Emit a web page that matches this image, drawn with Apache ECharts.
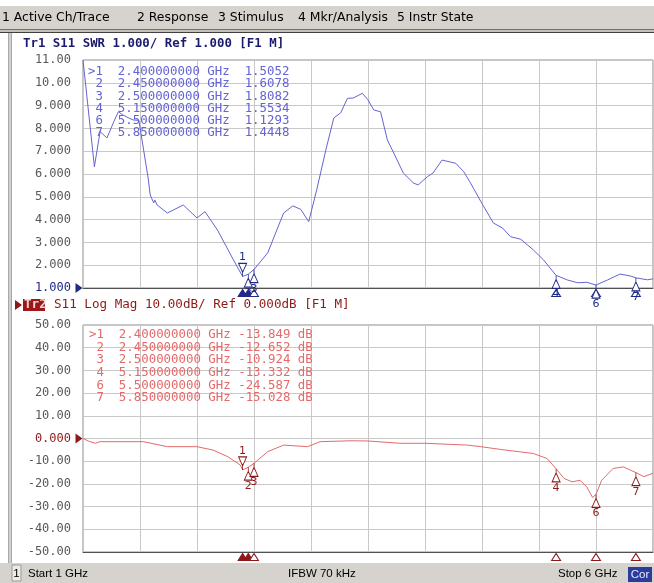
<!DOCTYPE html>
<html><head><meta charset="utf-8">
<script src="https://cdn.jsdelivr.net/npm/echarts@6/dist/echarts.min.js"></script>
<style>html,body{margin:0;padding:0;background:#fff}#c{width:654px;height:583px}</style>
</head><body><div id="c"></div><script>
// ---------- data ----------
const swrFreq = [1.00,1.10,1.15,1.21,1.27,1.31,1.35,1.40,1.44,1.49,1.57,1.59,1.62,1.63,1.65,1.74,1.88,2.00,2.07,2.18,2.32,2.40,2.45,2.50,2.62,2.76,2.84,2.91,2.98,3.05,3.13,3.20,3.26,3.32,3.37,3.45,3.50,3.55,3.61,3.67,3.72,3.81,3.90,3.94,4.02,4.07,4.15,4.27,4.34,4.40,4.49,4.60,4.68,4.75,4.84,4.95,5.04,5.15,5.25,5.34,5.42,5.50,5.60,5.71,5.80,5.85,5.95,6.00];
const swrVals = [11.0,6.32,7.86,7.58,8.29,8.73,8.59,8.46,8.37,8.35,5.87,5.08,4.73,4.86,4.64,4.29,4.64,4.07,4.35,3.54,2.23,1.5052,1.6078,1.8082,2.54,4.29,4.60,4.45,3.91,5.30,7.05,8.46,8.68,9.32,9.33,9.54,9.25,8.81,8.73,7.49,6.98,6.04,5.60,5.52,5.88,6.04,6.61,6.47,6.10,5.60,4.79,3.85,3.63,3.25,3.14,2.67,2.23,1.5534,1.35,1.23,1.25,1.1293,1.35,1.61,1.53,1.4448,1.36,1.40];
const dbFreq = [1.00,1.06,1.11,1.15,1.53,1.74,2.00,2.14,2.27,2.38,2.40,2.45,2.50,2.62,2.76,2.97,3.08,3.35,3.50,3.78,4.00,4.37,4.49,4.66,4.95,5.07,5.15,5.22,5.29,5.36,5.42,5.47,5.50,5.55,5.65,5.74,5.85,5.92,6.00];
const dbVals = [0.0,-1.4,-2.1,-1.4,-1.4,-3.6,-3.6,-5.1,-8.0,-11.7,-13.849,-12.652,-10.924,-5.8,-2.9,-3.6,-1.4,-1.0,-1.1,-2.1,-2.1,-2.9,-3.6,-4.8,-6.6,-8.8,-13.332,-17.6,-19.1,-18.4,-21.4,-26.0,-24.587,-18.4,-13.2,-12.5,-15.028,-16.8,-15.3];
const markerIds = ['1','2','3','4','6','7'];
const markerFreq = [2.4,2.45,2.5,5.15,5.5,5.85];
const markerSwr = [1.5052,1.6078,1.8082,1.5534,1.1293,1.4448];
const markerDb = [-13.849,-12.652,-10.924,-13.332,-24.587,-15.028];
const swrTickLabels = ['11.00','10.00','9.000','8.000','7.000','6.000','5.000','4.000','3.000','2.000','1.000'];
const dbTickLabels = ['50.00','40.00','30.00','20.00','10.00','0.000','-10.00','-20.00','-30.00','-40.00','-50.00'];
const menuItems = ['1 Active Ch/Trace','2 Response','3 Stimulus','4 Mkr/Analysis','5 Instr State'];
const trace1Title = 'Tr1 S11 SWR 1.000/ Ref 1.000 [F1 M]';
const trace2Name = 'Tr2';
const trace2Title = 'S11 Log Mag 10.00dB/ Ref 0.000dB [F1 M]';
const statusStart = 'Start 1 GHz', statusIfbw = 'IFBW 70 kHz', statusStop = 'Stop 6 GHz', statusCor = 'Cor';

// ---------- styling ----------
const NAVY = '#1f2a88', DRED = '#8e1818';
const TRACE1 = '#6464d2', TRACE2 = '#e46a6a';
const MONO = '"DejaVu Sans Mono", monospace';
const PIN_UP = 'path://M4,0 L4,6 M0,13 L4,4 L8,13 Z';
const PIN_DOWN = 'path://M0,0 L8,0 L4,9 Z M4,7 L4,13';

function pairs(f, v){ return f.map((x,i)=>[x, v[i]]); }

function markers(vals, color, yMin, ref){
  const d = [];
  markerIds.forEach((id,i)=>{
    d.push({
      coord:[markerFreq[i], yMin], symbol:'triangle', symbolSize:[9,7], symbolOffset:[0,5],
      itemStyle:{color: i<2 ? color : '#fff', borderColor:color, borderWidth:1},
      label:{show:false}
    });
  });
  markerIds.forEach((id,i)=>{
    const active = i===0;
    d.push({
      coord:[markerFreq[i], vals[i]],
      symbol: active ? PIN_DOWN : PIN_UP,
      symbolSize:[8,13],
      symbolOffset:[0, active ? -6.5 : 6.5],
      itemStyle:{color:'#fff', borderColor:color, borderWidth:1},
      label:{show:true, formatter:id, position: active ? 'top' : 'bottom', distance:0,
             color:color, fontSize:11, fontFamily:'"DejaVu Sans"', padding:0}
    });
  });
  d.push({
    coord:[1, ref], symbol:'triangle', symbolRotate:-90, symbolSize:[10,7], symbolOffset:[-4,0],
    itemStyle:{color:color, borderWidth:0}, label:{show:false}
  });
  return d;
}

function tableLines(vals, isDb){
  return markerIds.map((id,i)=>{
    const head = (i===0 ? '>' : ' ') + id + '  ' + markerFreq[i].toFixed(9) + ' GHz';
    return isDb ? head + ' ' + vals[i].toFixed(3) + ' dB' : head + '  ' + vals[i].toFixed(4);
  });
}

const graphics = [];
// menu bar
graphics.push({type:'rect', shape:{x:0,y:6,width:654,height:23}, style:{fill:'#d6d3ce'}, silent:true});
graphics.push({type:'rect', shape:{x:0,y:29,width:654,height:4}, style:{fill:'#c4c1bb'}, silent:true});
graphics.push({type:'line', shape:{x1:0,y1:29.5,x2:654,y2:29.5}, style:{stroke:'#707070',lineWidth:1}, silent:true});
graphics.push({type:'line', shape:{x1:0,y1:32.5,x2:654,y2:32.5}, style:{stroke:'#404040',lineWidth:1}, silent:true});
const menuX = [2,137,218,298,397];
menuItems.forEach((t,i)=>graphics.push({type:'text', x:menuX[i], y:18,
  style:{text:t, font:'12.4px "DejaVu Sans", sans-serif', fill:'#000', verticalAlign:'middle', textVerticalAlign:'middle'}, silent:true}));
// left frame strip
graphics.push({type:'rect', shape:{x:8,y:33,width:4,height:530}, style:{fill:'#d0d0d0'}, silent:true});
graphics.push({type:'line', shape:{x1:8.5,y1:33,x2:8.5,y2:563}, style:{stroke:'#a8a8a8',lineWidth:1}, silent:true});
graphics.push({type:'line', shape:{x1:11.5,y1:33,x2:11.5,y2:563}, style:{stroke:'#a8a8a8',lineWidth:1}, silent:true});
// trace titles
graphics.push({type:'text', x:23, y:43.5, style:{text:trace1Title, font:'bold 12.4px '+MONO, fill:'#1a1a6e', verticalAlign:'middle', textVerticalAlign:'middle'}, silent:true});
graphics.push({type:'polygon', shape:{points:[[15,300],[22,305],[15,310]]}, style:{fill:DRED}, silent:true});
graphics.push({type:'rect', shape:{x:23,y:299,width:22,height:12}, style:{fill:'#a01616'}, silent:true});
graphics.push({type:'text', x:24, y:305, style:{text:trace2Name, font:'bold 12.6px '+MONO, fill:'#e8dada', verticalAlign:'middle', textVerticalAlign:'middle'}, silent:true});
graphics.push({type:'text', x:54, y:305, style:{text:trace2Title, font:'12.6px '+MONO, fill:DRED, verticalAlign:'middle', textVerticalAlign:'middle'}, silent:true});
// marker tables
tableLines(markerSwr,false).forEach((t,i)=>graphics.push({type:'text', x:88, y:72+i*12.2,
  style:{text:t, font:'12.4px '+MONO, fill:TRACE1, verticalAlign:'middle', textVerticalAlign:'middle'}, silent:true, z:100}));
tableLines(markerDb,true).forEach((t,i)=>graphics.push({type:'text', x:89, y:335+i*12.6,
  style:{text:t, font:'12.4px '+MONO, fill:TRACE2, verticalAlign:'middle', textVerticalAlign:'middle'}, silent:true, z:100}));
// status bar
graphics.push({type:'rect', shape:{x:0,y:563,width:654,height:20}, style:{fill:'#d6d3ce'}, silent:true});
graphics.push({type:'rect', shape:{x:12,y:565,width:9,height:16}, style:{fill:'#ecebe8', stroke:'#9a9a9a', lineWidth:1}, silent:true});
const SFONT = '11.5px "Liberation Sans", Arial, sans-serif';
graphics.push({type:'text', x:16.5, y:573.5, style:{text:'1', font:SFONT, fill:'#000', align:'center', textAlign:'center', verticalAlign:'middle', textVerticalAlign:'middle'}, silent:true});
graphics.push({type:'text', x:28, y:573.5, style:{text:statusStart, font:SFONT, fill:'#000', verticalAlign:'middle', textVerticalAlign:'middle'}, silent:true});
graphics.push({type:'text', x:288, y:573.5, style:{text:statusIfbw, font:SFONT, fill:'#000', verticalAlign:'middle', textVerticalAlign:'middle'}, silent:true});
graphics.push({type:'text', x:558, y:573.5, style:{text:statusStop, font:SFONT, fill:'#000', verticalAlign:'middle', textVerticalAlign:'middle'}, silent:true});
graphics.push({type:'rect', shape:{x:628,y:567,width:24,height:15}, style:{fill:'#2c3c9c'}, silent:true});
graphics.push({type:'text', x:640, y:574.5, style:{text:statusCor, font:SFONT, fill:'#e8e8ff', align:'center', textAlign:'center', verticalAlign:'middle', textVerticalAlign:'middle'}, silent:true});

const axisLabelBase = {fontFamily:MONO, fontSize:12, margin:12};

const option = {
  animation:false,
  backgroundColor:'#fff',
  grid:[
    {left:83, top:60, width:570, height:228, show:true, borderColor:'#8a8a8a', borderWidth:1, backgroundColor:'#fff'},
    {left:83, top:325, width:570, height:227, show:true, borderColor:'#8a8a8a', borderWidth:1, backgroundColor:'#fff'}
  ],
  xAxis:[0,1].map(g=>({type:'value', gridIndex:g, min:1, max:6, interval:0.5,
    axisLabel:{show:false}, axisTick:{show:false},
    axisLine:{show:true, onZero:false, lineStyle:{color:'#505050', width:1}},
    splitLine:{show:true, lineStyle:{color:'#c8c8c8', width:1}}})),
  yAxis:[
    {type:'value', gridIndex:0, min:1, max:11, interval:1,
     axisLine:{show:false}, axisTick:{show:false},
     splitLine:{show:true, lineStyle:{color:'#c8c8c8'}},
     axisLabel:Object.assign({}, axisLabelBase, {
       formatter:v=>swrTickLabels[Math.round(11-v)],
       color:v=>(Math.round(v)===1 ? NAVY : '#585858')})},
    {type:'value', gridIndex:1, min:-50, max:50, interval:10,
     axisLine:{show:false}, axisTick:{show:false},
     splitLine:{show:true, lineStyle:{color:'#c8c8c8'}},
     axisLabel:Object.assign({}, axisLabelBase, {
       formatter:v=>dbTickLabels[Math.round((50-v)/10)],
       color:v=>(Math.round(v)===0 ? DRED : '#585858')})}
  ],
  graphic:{elements:graphics},
  series:[
    {type:'line', xAxisIndex:0, yAxisIndex:0, data:pairs(swrFreq, swrVals), showSymbol:false, symbol:'none',
     lineStyle:{color:TRACE1, width:1}, itemStyle:{color:TRACE1}, z:3,
     markPoint:{silent:true, data:markers(markerSwr, NAVY, 1, 1), animation:false}},
    {type:'line', xAxisIndex:1, yAxisIndex:1, data:pairs(dbFreq, dbVals), showSymbol:false, symbol:'none',
     lineStyle:{color:TRACE2, width:1}, itemStyle:{color:TRACE2}, z:3,
     markPoint:{silent:true, data:markers(markerDb, DRED, -50, 0), animation:false}}
  ]
};
echarts.init(document.getElementById('c'), null, {renderer:'canvas'}).setOption(option);
</script></body></html>
